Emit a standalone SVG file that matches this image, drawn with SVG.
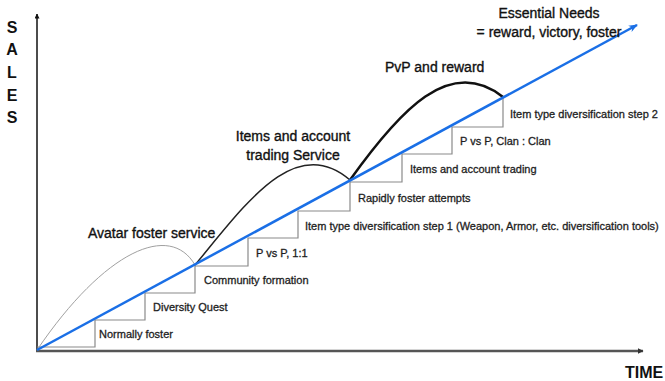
<svg xmlns="http://www.w3.org/2000/svg" width="665" height="381" viewBox="0 0 665 381">
<style>
.small{font-family:"Liberation Sans",Arial,sans-serif;font-size:11px;fill:#1e1e1e;stroke:#1e1e1e;stroke-width:0.3;}
.big{font-family:"Liberation Sans",Arial,sans-serif;font-size:14px;fill:#111;stroke:#111;stroke-width:0.35;}
.axis{font-family:"Liberation Sans",Arial,sans-serif;font-size:16px;font-weight:bold;fill:#111;}
</style>
<defs>
<marker id="arrK" viewBox="0 0 10 10" refX="9" refY="5" markerWidth="5" markerHeight="5" orient="auto" markerUnits="userSpaceOnUse">
<path d="M0,0 L10,5 L0,10 z" fill="#111"/>
</marker>
<marker id="arrG" viewBox="0 0 10 10" refX="9" refY="5" markerWidth="6" markerHeight="6" orient="auto" markerUnits="userSpaceOnUse">
<path d="M0,0 L10,5 L0,10 z" fill="#333"/>
</marker>
<marker id="arrB" viewBox="0 0 10 10" refX="9" refY="5" markerWidth="9" markerHeight="9" orient="auto" markerUnits="userSpaceOnUse">
<path d="M0,1 L10,5 L0,9 L3,5 z" fill="#1a6fe6"/>
</marker>
</defs>
<rect width="665" height="381" fill="#fff"/>
<g id="axes">
<line x1="37" y1="351" x2="37" y2="14" stroke="#111" stroke-width="1.5" marker-end="url(#arrK)"/>
<line x1="36" y1="351" x2="643" y2="351" stroke="#555" stroke-width="2.5" marker-end="url(#arrG)"/>
<g class="axis" text-anchor="middle">
<text x="12" y="33">S</text>
<text x="12" y="55">A</text>
<text x="12" y="78">L</text>
<text x="12" y="101">E</text>
<text x="12" y="123">S</text>
</g>
<text class="axis" x="625" y="378">TIME</text>
</g>
<g id="connectors">
<path id="stairs" d="M37,347 H95 V320 H145 V293 H195 V266 H248 V238 H298 V211 H350 V182 H402 V154 H452 V127 H503 V97" fill="none" stroke="#8a8a8a" stroke-width="1.2"/>
<path id="curve-avatar" d="M37,350 C105,250 170,222 195,265" fill="none" stroke="#a0a0a0" stroke-width="1"/>
<path id="curve-items" d="M195,265 C245,205 295,132 350,180" fill="none" stroke="#222" stroke-width="1.5"/>
<path id="curve-pvp" d="M350,180 C400,110 450,55 503,97" fill="none" stroke="#111" stroke-width="2.5"/>
<line id="essential-line" x1="37" y1="350" x2="637" y2="25" stroke="#1a6fe6" stroke-width="2.5" marker-end="url(#arrB)"/>
</g>
<g id="step-labels" class="small">
<text x="99" y="338">Normally foster</text>
<text x="153" y="311">Diversity Quest</text>
<text x="204" y="284">Community formation</text>
<text x="256" y="257">P vs P, 1:1</text>
<text x="305" y="230">Item type diversification step 1 (Weapon, Armor, etc. diversification tools)</text>
<text x="358" y="202">Rapidly foster attempts</text>
<text x="410" y="173">Items and account trading</text>
<text x="460" y="145">P vs P, Clan : Clan</text>
<text x="510" y="118">Item type diversification step 2</text>
</g>
<g id="service-labels" class="big">
<text x="88" y="238">Avatar foster service</text>
<text x="293" y="141" text-anchor="middle">Items and account</text>
<text x="293" y="160" text-anchor="middle">trading Service</text>
<text x="385" y="72">PvP and reward</text>
<text x="549" y="18" text-anchor="middle">Essential Needs</text>
<text x="549" y="37" text-anchor="middle">= reward, victory, foster</text>
</g>
</svg>
